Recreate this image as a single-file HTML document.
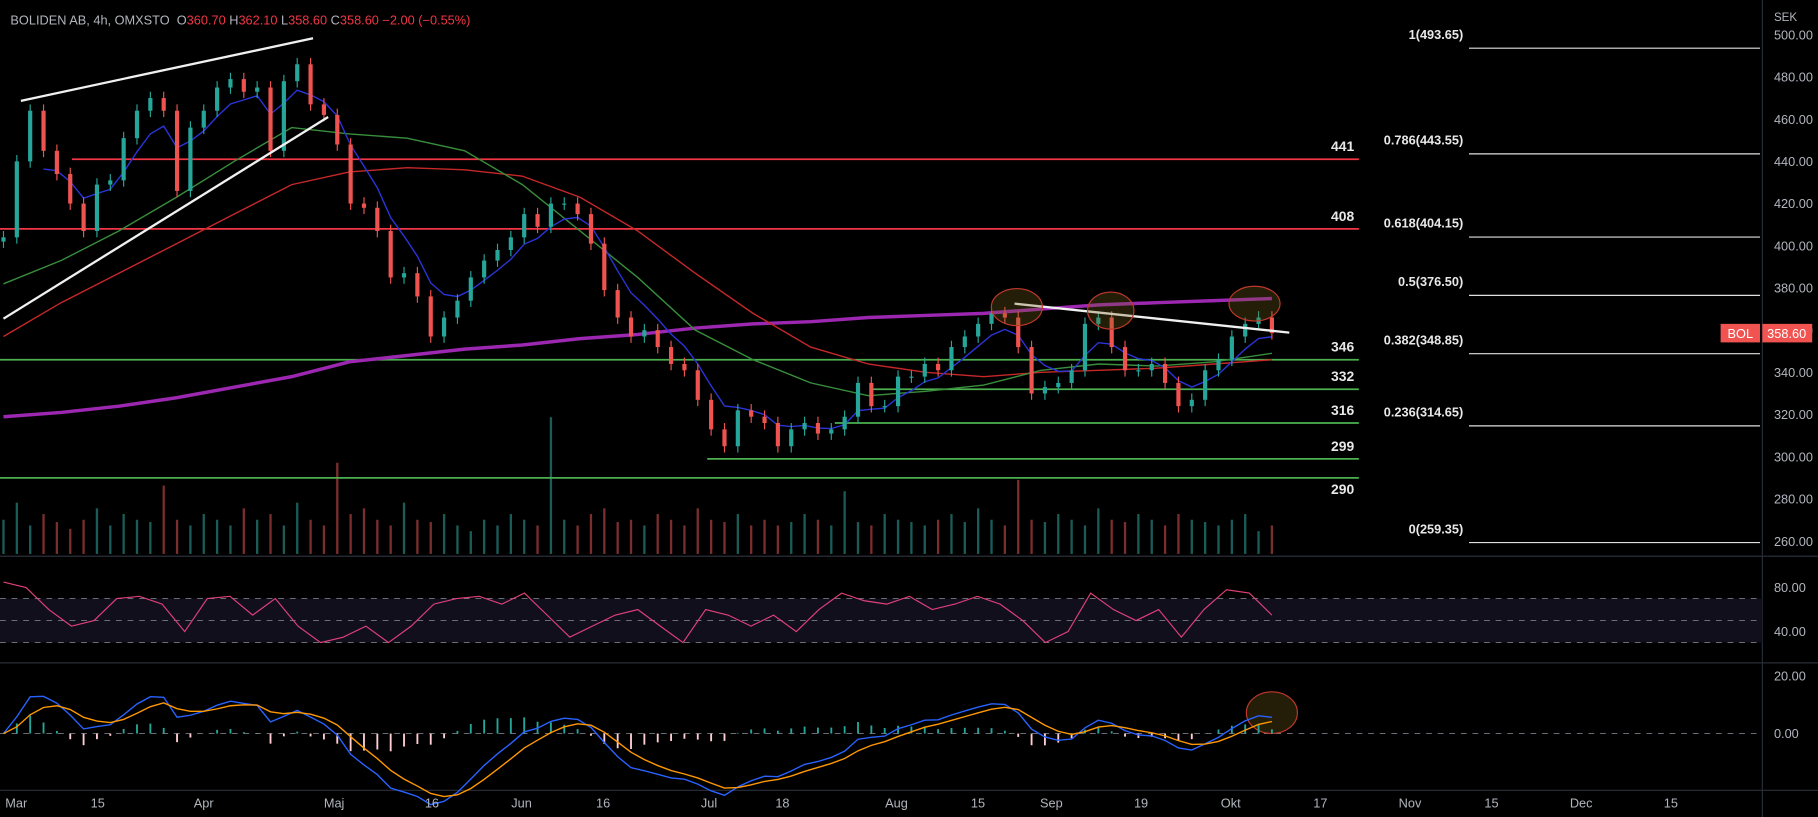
<!DOCTYPE html>
<html><head><meta charset="utf-8">
<style>
html,body{margin:0;padding:0;background:#000;overflow:hidden}
svg{display:block;font-family:"Liberation Sans",sans-serif}
</style></head>
<body>
<svg id="chart" width="1818" height="817" viewBox="0 0 1568 705" preserveAspectRatio="none" xmlns="http://www.w3.org/2000/svg">
<rect x="0" y="0" width="1568" height="705" fill="#000"/>
<g id="layer"></g>
</svg>
<script>
// ---- data ----
const closes=[404,440,464,445,434,420,407,429,431,451,464,470,464,426,456,464,475,479,473,475,445,478,486,467,462,448,420,418,407,385,387,376,357,366,374,385,393,398,404,415,409,420,420,415,401,379,366,357,360,352,344,341,327,313,305,322,319,316,305,313,316,311,313,319,335,324,324,338,338,344,341,352,357,363,368,366,352,330,333,335,341,363,366,352,341,341,344,335,324,327,341,346,357,363,366,358.6];
const maGreen=[382,393,407,423,440,456,453,451,445,429,407,385,360,346,335,329,331,334,341,344,343,345,349];
const maRed=[357,373,387,401,415,429,435,437,436,433,423,407,387,368,352,344,340,338,340,341,342,344,346];
const maPurple=[319,321,324,328,333,338,345,348,351,353,356,358,361,363,364,366,367,368,370,372,373,374,375];
const volumes=[30,45,25,35,28,22,30,40,25,35,30,28,60,30,25,35,30,25,40,30,35,25,45,30,25,80,35,40,30,25,45,30,28,35,25,20,30,25,35,30,25,120,30,25,35,40,28,30,25,35,30,25,40,30,28,35,25,30,25,28,35,30,25,55,28,25,35,30,28,25,30,35,28,40,30,25,65,30,28,35,30,25,40,30,28,35,30,25,35,30,28,25,30,35,20,25];
const rsiVals=[85,80,60,45,50,70,72,65,40,70,72,55,70,45,30,35,45,30,45,65,70,72,65,75,55,35,45,55,60,45,30,60,55,45,55,40,60,75,68,65,72,60,65,72,65,50,30,40,75,60,50,60,35,60,78,75,55];
const priceTicks=[500,480,460,440,420,400,380,360,340,320,300,280,260];
const dateLabels=["Mar","15","Apr","Maj","16","Jun","16","Jul","18","Aug","15","Sep","19","Okt","17","Nov","15","Dec","15"];
const dateDays=[0,10,23,39,51,62,72,85,94,108,118,127,138,149,160,171,181,192,203];
const hLevels=[441,408,346,332,316,299,290];
const hColors=["red","red","green","green","green","green","green"];
const fibLabels=["1(493.65)","0.786(443.55)","0.618(404.15)","0.5(376.50)","0.382(348.85)","0.236(314.65)","0(259.35)"];
const fibValues=[493.65,443.55,404.15,376.50,348.85,314.65,259.35];

// ---- scales ----
const NS="http://www.w3.org/2000/svg";
const L=document.getElementById('layer');
function mk(t,a,p){const e=document.createElementNS(NS,t);for(const k in a)e.setAttribute(k,a[k]);(p||L).appendChild(e);return e;}
const xDay=d=>14+d*7.03;
const X0=3,X1=1097;
const xIdx=(i,n)=>X0+i*(X1-X0)/(n-1);
const yP=p=>30+(500-p)*(437/240);
const yR=v=>545-(v-40)*0.95;
const yM=v=>633-v*2.5;

[[480],[572],[682]].forEach((a,i)=>{const e=mk('line',{x1:0,x2:1568,y1:a[0],y2:a[0],stroke:'#2a2e39','stroke-width':1});
});
let ax=mk('line',{x1:1520,x2:1520,y1:0,y2:705,stroke:'#2a2e39'});


let band=mk('rect',{x:0,y:yR(70),width:1520,height:yR(30)-yR(70),fill:'#120f1c'});

[70,50,30].forEach(v=>{const e=mk('line',{x1:0,x2:1520,y1:yR(v),y2:yR(v),stroke:'#787b86','stroke-dasharray':'5,5','stroke-width':0.8});
});
let mz=mk('line',{x1:0,x2:1520,y1:yM(0),y2:yM(0),stroke:'#787b86','stroke-dasharray':'5,5','stroke-width':0.7});


const vb=478,vmax=120;
volumes.forEach((v,i)=>{const x=xIdx(i,volumes.length);const j=Math.min(i,closes.length-1);const up=j==0||closes[j]>=closes[j-1];
const e=mk('rect',{x:x-1,y:vb-v/vmax*118,width:2,height:v/vmax*118,fill:up?'#1a5c57':'#7a2e2e'});
});

hLevels.forEach((p,i)=>{const green=hColors[i]=='green';
const x1=i==0?62:(i==1?0:(p==332?750:(p==316?720:(p==299?610:0))));
const e=mk('line',{x1:x1,x2:1172,y1:yP(p),y2:yP(p),stroke:green?'#4caf50':'#f23645','stroke-width':1.5});

const t=mk('text',{x:1168,y:yP(p)-(p==290?-14:7),fill:'#e8e8e8','font-size':12,'font-weight':'bold','text-anchor':'end'});t.textContent=String(p);
});

fibValues.forEach((v,i)=>{const y=yP(v);
const e=mk('line',{x1:1267,x2:1518,y1:y,y2:y,stroke:'#e0e0e0','stroke-width':1});

const t=mk('text',{x:1262,y:y-8,fill:'#e8e8e8','font-size':11,'font-weight':'bold','text-anchor':'end'});t.textContent=fibLabels[i];
});

function line(vals,xf,yf,col,w,name){const d=vals.map((v,i)=>(i?'L':'M')+xf(i).toFixed(1)+','+yf(v).toFixed(1)).join('');
const e=mk('path',{d:d,fill:'none',stroke:col,'stroke-width':w});return e;}
line(maPurple,i=>xIdx(i,maPurple.length),yP,'#9c27b0',3,'ma-purple');
line(maRed,i=>xIdx(i,maRed.length),yP,'#c62828',1.2,'ma-red');
line(maGreen,i=>xIdx(i,maGreen.length),yP,'#388e3c',1.2,'ma-green');
function ema(a,n){const k=2/(n+1);const o=[];a.forEach((v,i)=>o.push(i?v*k+o[i-1]*(1-k):v));return o;}
const blue=ema(closes,5);
line(blue.slice(3),i=>xIdx(i+3,closes.length),yP,'#2a35d8',1.2,'ma-blue');

closes.forEach((c,i)=>{const o=i?closes[i-1]:c-2;const x=xIdx(i,closes.length);const up=c>=o;const col=up?'#26a69a':'#ef5350';
const hi=Math.max(o,c)+3,lo=Math.min(o,c)-3;
const w=mk('line',{x1:x,x2:x,y1:yP(hi),y2:yP(lo),stroke:col,'stroke-width':1});

const b=mk('rect',{x:x-1.8,y:yP(Math.max(o,c)),width:3.6,height:Math.max(1,Math.abs(yP(o)-yP(c))),fill:col});
});

[[18,87,270,33],[3,275,283,101],[875,262,1112,287]].forEach(t=>{const e=mk('line',{x1:t[0],y1:t[1],x2:t[2],y2:t[3],stroke:'#f0f0f0','stroke-width':2});
});
[[877,265,22,16],[958,268,20,16],[1082,262,22,15],[1097,615,22,18]].forEach(c=>{const e=mk('ellipse',{cx:c[0],cy:c[1],rx:c[2],ry:c[3],fill:'rgba(120,100,30,0.3)',stroke:'#c0392b','stroke-width':1});
});

line(rsiVals,i=>xIdx(i,rsiVals.length),yR,'#e0407a',1,'rsi-line');

const e1=ema(closes,5),e2=ema(closes,12);const macd=e1.map((v,i)=>(v-e2[i])*0.9);const sig=ema(macd,4);
macd.forEach((m,i)=>{const h=m-sig[i];const x=xIdx(i,closes.length);
const e=mk('rect',{x:x-0.8,y:Math.min(yM(0),yM(h)),width:1.6,height:Math.abs(yM(h)-yM(0)),fill:h>=0?'#26a69a':'#ffcdd2'});
});
line(macd,i=>xIdx(i,closes.length),yM,'#2962ff',1.2,'macd-line');
line(sig,i=>xIdx(i,closes.length),yM,'#ff9800',1.2,'signal-line');

priceTicks.forEach(p=>{const t=mk('text',{x:1530,y:yP(p)+4,fill:'#b2b5be','font-size':11});t.textContent=p.toFixed(2);
});
[[80,yR],[40,yR],[20,yM],[0,yM]].forEach(a=>{const t=mk('text',{x:1530,y:a[1](a[0])+4,fill:'#b2b5be','font-size':11});t.textContent=a[0].toFixed(2);
});
let sek=mk('text',{x:1530,y:18,fill:'#b2b5be','font-size':10});sek.textContent='SEK';

dateLabels.forEach((s,i)=>{const t=mk('text',{x:xDay(dateDays[i]),y:697,fill:'#b2b5be','font-size':11,'text-anchor':'middle'});t.textContent=s;
});

let b1=mk('rect',{x:1484,y:yP(358.6)-8,width:34,height:16,fill:'#f05350'});
let b2=mk('rect',{x:1520,y:yP(358.6)-8,width:43,height:16,fill:'#f05350'});
let t1=mk('text',{x:1501,y:yP(358.6)+4,fill:'#fff','font-size':11,'text-anchor':'middle'});t1.textContent='BOL';
let t2=mk('text',{x:1541,y:yP(358.6)+4,fill:'#fff','font-size':11,'text-anchor':'middle'});t2.textContent='358.60';

const hd=mk('text',{x:9,y:21,'font-size':11,fill:'#b2b5be'});
[['BOLIDEN AB, 4h, OMXSTO  ','#b2b5be'],['O','#b2b5be'],['360.70 ','#f23645'],['H','#b2b5be'],['362.10 ','#f23645'],['L','#b2b5be'],['358.60 ','#f23645'],['C','#b2b5be'],['358.60 −2.00 (−0.55%)','#f23645']].forEach(s=>{
const sp=mk('tspan',{fill:s[1]},hd);sp.textContent=s[0];});
hd.setAttribute('style','white-space:pre');
</script>
</body></html>
